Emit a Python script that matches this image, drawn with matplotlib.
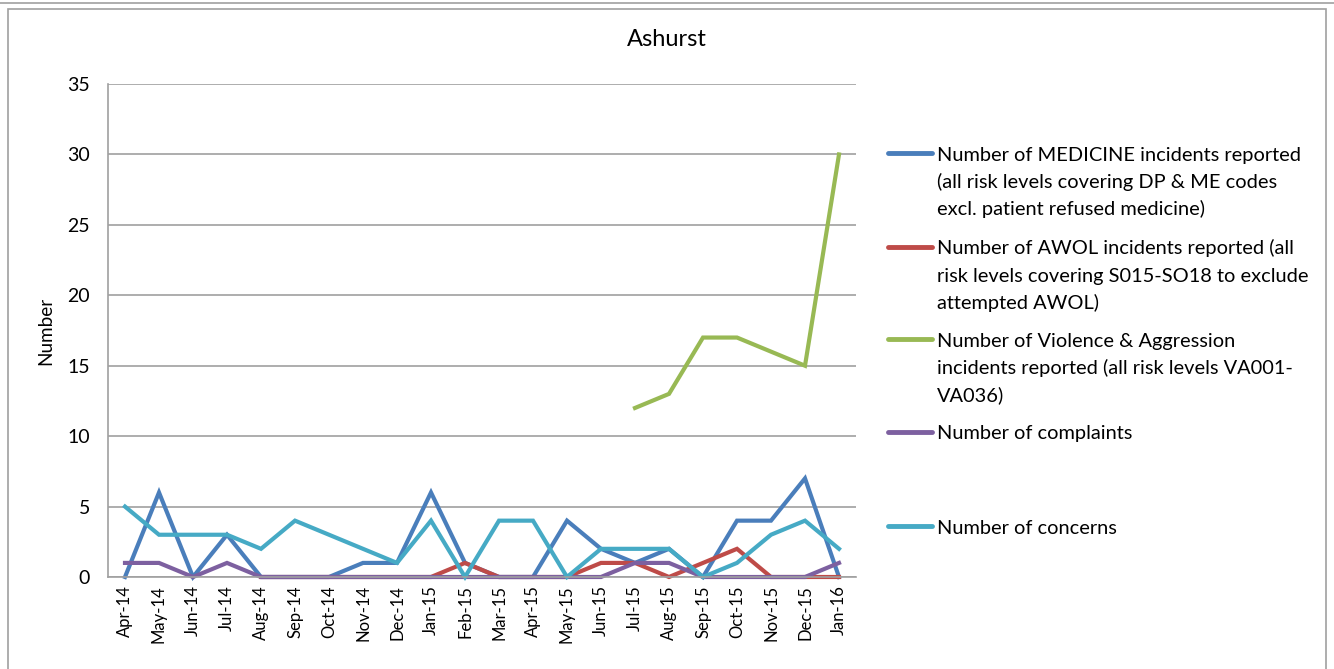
import numpy as np
import matplotlib
matplotlib.use("Agg")
import matplotlib.pyplot as plt
from matplotlib.lines import Line2D
from matplotlib.patches import Rectangle

plt.rcParams['font.family'] = ['Lato', 'DejaVu Sans']

months = ['Apr-14', 'May-14', 'Jun-14', 'Jul-14', 'Aug-14', 'Sep-14', 'Oct-14',
          'Nov-14', 'Dec-14', 'Jan-15', 'Feb-15', 'Mar-15', 'Apr-15', 'May-15',
          'Jun-15', 'Jul-15', 'Aug-15', 'Sep-15', 'Oct-15', 'Nov-15', 'Dec-15',
          'Jan-16']

medicine = [0, 6, 0, 3, 0, 0, 0, 1, 1, 6, 1, 0, 0, 4, 2, 1, 2, 0, 4, 4, 7, 0]
awol = [np.nan] * 4 + [0, 0, 0, 0, 0, 0, 1, 0, 0, 0, 1, 1, 0, 1, 2, 0, 0, 0]
violence = [np.nan] * 15 + [12, 13, 17, 17, 16, 15, 30]
complaints = [1, 1, 0, 1, 0, 0, 0, 0, 0, 0, 0, 0, 0, 0, 0, 1, 1, 0, 0, 0, 0, 1]
concerns = [5, 3, 3, 3, 2, 4, 3, 2, 1, 4, 0, 4, 4, 0, 2, 2, 2, 0, 1, 3, 4, 2]

labels = [
    ['Number of MEDICINE incidents reported',
     '(all risk levels covering DP & ME codes',
     'excl. patient refused medicine)'],
    ['Number of AWOL incidents reported (all',
     'risk levels covering S015-SO18 to exclude',
     'attempted AWOL)'],
    ['Number of Violence & Aggression',
     'incidents reported (all risk levels VA001-',
     'VA036)'],
    ['Number of complaints'],
    ['Number of concerns'],
]
colors = ['#4A7EBB', '#BE4B48', '#98B954', '#7D60A0', '#46AAC5']
series = [medicine, awol, violence, complaints, concerns]

W, H = 1334, 669
fig = plt.figure(figsize=(W / 100, H / 100), dpi=100)

# chart frame
fig.add_artist(Line2D([0, 1], [1 - 3 / H, 1 - 3 / H], transform=fig.transFigure,
                      color='#A0A0A0', lw=1.2))
fig.add_artist(Rectangle((8 / W, -0.05), (1326 - 8) / W, 1 - 9 / H + 0.05,
                         transform=fig.transFigure, fill=False,
                         edgecolor='#A0A0A0', lw=1.2))

ax = fig.add_axes([108 / W, 1 - 577 / H, (856 - 108) / W, (577 - 84) / H])
x = np.arange(len(months))
for vals, c in zip(series, colors):
    ax.plot(x, vals, color=c, lw=3, solid_joinstyle='miter', clip_on=False)

ax.set_xlim(-0.5, len(months) - 0.5)
ax.set_ylim(0, 35)
ax.set_yticks(range(0, 36, 5))
ax.set_xticks(x)
ax.set_xticklabels(months, rotation=90, fontsize=12)
ax.tick_params(axis='y', labelsize=14, length=0, pad=13)
ax.tick_params(axis='x', length=0, pad=6)
ax.yaxis.grid(True, color='#A0A0A0', lw=1.2)
ax.set_axisbelow(True)
for s in ['top', 'right']:
    ax.spines[s].set_visible(False)
for s in ['left', 'bottom']:
    ax.spines[s].set_color('#A0A0A0')
    ax.spines[s].set_linewidth(1.2)
ax.set_ylabel('Number', fontsize=13.6, labelpad=9)

fig.text(667 / W, 1 - 40 / H, 'Ashurst', ha='center', va='center', fontsize=17)

# legend, drawn by hand to follow the original layout
leg_y = [153, 247, 339, 432, 526]
for yy, lines, c in zip(leg_y, labels, colors):
    yf = 1 - yy / H
    fig.add_artist(Line2D([888 / W, 932 / W], [yf, yf], transform=fig.transFigure,
                          color=c, lw=3.5, solid_capstyle='round'))
    for i, line in enumerate(lines):
        base = yy + 7.5 + i * 27.5
        fig.text(937 / W, 1 - base / H, line, ha='left', va='baseline',
                 fontsize=14.4)

fig.savefig('out.png', dpi=100)
